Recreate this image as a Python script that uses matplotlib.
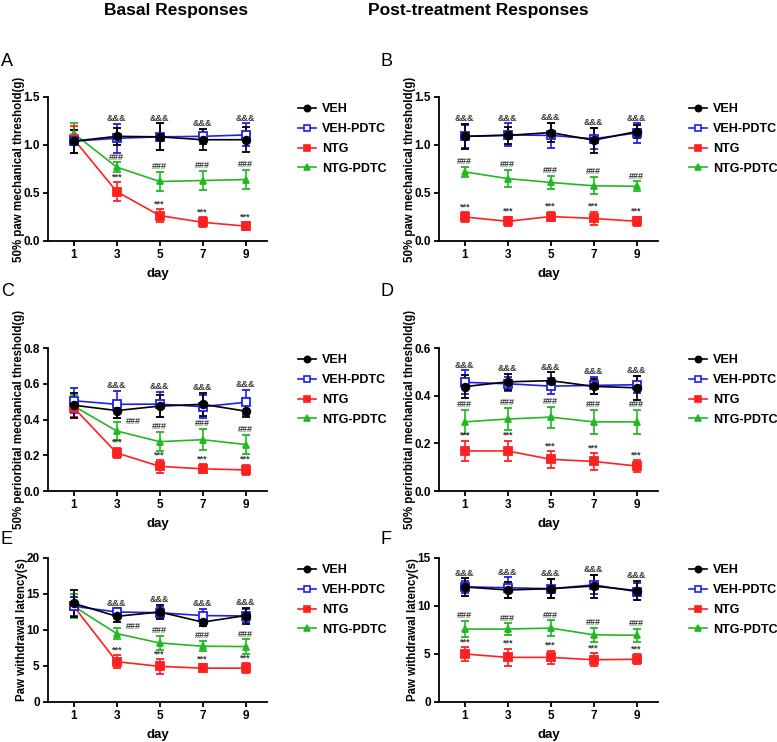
import numpy as np
import matplotlib
matplotlib.use("Agg")
import matplotlib.pyplot as plt
from matplotlib.lines import Line2D

plt.rcParams["font.family"] = ["Liberation Sans", "DejaVu Sans"]
plt.rcParams["font.weight"] = "bold"

days = [1, 3, 5, 7, 9]
groups = ["VEH", "VEH-PDTC", "NTG", "NTG-PDTC"]

# panel A: basal 50% paw mechanical threshold
a_mean = {
    "VEH": [1.04, 1.09, 1.085, 1.055, 1.055],
    "VEH-PDTC": [1.04, 1.07, 1.085, 1.09, 1.105],
    "NTG": [1.06, 0.515, 0.265, 0.195, 0.155],
    "NTG-PDTC": [1.12, 0.77, 0.62, 0.63, 0.64],
}
a_err = {
    "VEH": [0.12, 0.09, 0.14, 0.11, 0.13],
    "VEH-PDTC": [0.12, 0.15, 0.14, 0.08, 0.12],
    "NTG": [0.14, 0.1, 0.07, 0.05, 0.045],
    "NTG-PDTC": [0.11, 0.05, 0.1, 0.1, 0.1],
}
# panel B: post-treatment paw threshold
b_mean = {
    "VEH": [1.09, 1.10, 1.13, 1.05, 1.14],
    "VEH-PDTC": [1.09, 1.105, 1.10, 1.065, 1.125],
    "NTG": [0.25, 0.205, 0.255, 0.235, 0.205],
    "NTG-PDTC": [0.72, 0.65, 0.61, 0.575, 0.57],
}
b_err = {
    "VEH": [0.13, 0.09, 0.10, 0.13, 0.07],
    "VEH-PDTC": [0.12, 0.12, 0.13, 0.11, 0.10],
    "NTG": [0.05, 0.05, 0.05, 0.07, 0.05],
    "NTG-PDTC": [0.05, 0.09, 0.07, 0.09, 0.05],
}
# panel C: basal periorbital threshold
c_mean = {
    "VEH": [0.48, 0.45, 0.475, 0.485, 0.447],
    "VEH-PDTC": [0.505, 0.485, 0.486, 0.472, 0.496],
    "NTG": [0.466, 0.213, 0.138, 0.124, 0.118],
    "NTG-PDTC": [0.475, 0.336, 0.276, 0.287, 0.26],
}
c_err = {
    "VEH": [0.07, 0.04, 0.06, 0.065, 0.035],
    "VEH-PDTC": [0.07, 0.075, 0.07, 0.065, 0.07],
    "NTG": [0.05, 0.03, 0.035, 0.025, 0.03],
    "NTG-PDTC": [0.06, 0.05, 0.055, 0.06, 0.055],
}
# panel D: post-treatment periorbital threshold
d_mean = {
    "VEH": [0.438, 0.458, 0.463, 0.439, 0.433],
    "VEH-PDTC": [0.456, 0.45, 0.44, 0.443, 0.446],
    "NTG": [0.168, 0.168, 0.133, 0.124, 0.105],
    "NTG-PDTC": [0.29, 0.302, 0.31, 0.29, 0.29],
}
d_err = {
    "VEH": [0.048, 0.035, 0.035, 0.03, 0.05],
    "VEH-PDTC": [0.05, 0.03, 0.035, 0.035, 0.035],
    "NTG": [0.043, 0.043, 0.035, 0.034, 0.024],
    "NTG-PDTC": [0.05, 0.046, 0.044, 0.05, 0.05],
}
# panel E: basal paw withdrawal latency
e_mean = {
    "VEH": [13.7, 11.9, 12.5, 11.1, 12.0],
    "VEH-PDTC": [13.3, 12.5, 12.4, 12.0, 11.95],
    "NTG": [13.3, 5.6, 4.95, 4.7, 4.7],
    "NTG-PDTC": [13.3, 9.5, 8.2, 7.75, 7.7],
}
e_err = {
    "VEH": [1.9, 0.8, 1.0, 0.5, 1.1],
    "VEH-PDTC": [1.3, 0.5, 0.8, 0.9, 0.9],
    "NTG": [1.3, 0.9, 1.0, 0.6, 0.7],
    "NTG-PDTC": [1.7, 0.8, 1.0, 0.7, 1.0],
}
# panel F: post-treatment paw withdrawal latency
f_mean = {
    "VEH": [11.98, 11.67, 11.8, 12.08, 11.6],
    "VEH-PDTC": [12.0, 11.9, 11.8, 12.2, 11.5],
    "NTG": [5.0, 4.65, 4.65, 4.4, 4.45],
    "NTG-PDTC": [7.6, 7.6, 7.7, 7.0, 6.95],
}
f_err = {
    "VEH": [0.9, 0.85, 1.0, 1.2, 1.0],
    "VEH-PDTC": [0.6, 1.1, 1.0, 1.0, 0.9],
    "NTG": [0.7, 0.9, 0.7, 0.7, 0.5],
    "NTG-PDTC": [0.85, 0.6, 0.8, 0.7, 0.65],
}

styles = {
    "VEH": dict(color="black", marker="o", mfc="black", ms=5.5),
    "VEH-PDTC": dict(color="#2020ee", marker="s", mfc="white", ms=5.5),
    "NTG": dict(color="#ff2020", marker="s", mfc="#ff2020", ms=5.5),
    "NTG-PDTC": dict(color="#22b822", marker="^", mfc="#22b822", ms=5),
}
mark_color = "#3a3a3a"

W, H = 777, 742


def rect(x0, y0, x1, y1):
    return [x0 / W, 1 - y1 / H, (x1 - x0) / W, (y1 - y0) / H]


def panel(fig, box, mean, err, ylim, yticks, ylabel, fmt, letter, lpos,
          skip_first=True, shifted=()):
    ax = fig.add_axes(rect(*box))
    order = ["NTG-PDTC", "NTG", "VEH-PDTC", "VEH"]
    for g in order:
        st = styles[g]
        ax.errorbar(days, mean[g], yerr=err[g], color=st["color"], marker=st["marker"],
                    mfc=st["mfc"], mec=st["color"], ms=st["ms"], mew=1.3, lw=1.2,
                    elinewidth=1.2, capsize=3, capthick=1.2, zorder=3)
    ax.set_xlim(-0.2, 10)
    ax.set_ylim(*ylim)
    ax.set_xticks(days)
    ax.set_yticks(yticks)
    ax.set_yticklabels([fmt.format(v) for v in yticks])
    for s in ["top", "right"]:
        ax.spines[s].set_visible(False)
    for s in ["left", "bottom"]:
        ax.spines[s].set_linewidth(1.3)
    ax.tick_params(width=1.3, length=3.5, pad=2.5, labelsize=8.5)
    for lab in ax.get_xticklabels() + ax.get_yticklabels():
        lab.set_fontweight("bold")
    ax.set_xlabel("day", fontsize=9.5, fontweight="bold", labelpad=5)
    ax.set_ylabel(ylabel, fontsize=8.3, fontweight="bold", labelpad=-1)

    # significance marks
    for i, d in enumerate(days):
        if skip_first and i == 0:
            continue
        top_veh = max(mean["VEH"][i] + err["VEH"][i], mean["VEH-PDTC"][i] + err["VEH-PDTC"][i])
        ax.annotate("&&&", (d, top_veh), xytext=(0, 0.5), textcoords="offset points",
                    ha="center", va="bottom", fontsize=6.5, color=mark_color)
        top_g = mean["NTG-PDTC"][i] + err["NTG-PDTC"][i]
        if d in shifted:
            ax.annotate("###", (d, mean["VEH"][i] - err["VEH"][i]), xytext=(12, -3),
                        textcoords="offset points", ha="center", va="center",
                        fontsize=6.5, color=mark_color)
        else:
            ax.annotate("###", (d, top_g), xytext=(0, 0.5), textcoords="offset points",
                        ha="center", va="bottom", fontsize=6.5, color=mark_color)
        top_r = mean["NTG"][i] + err["NTG"][i]
        ax.annotate("***", (d, top_r), xytext=(0, 0.5), textcoords="offset points",
                    ha="center", va="bottom", fontsize=6.5, color=mark_color)

    handles = [Line2D([0], [0], color=styles[g]["color"], marker=styles[g]["marker"],
                      mfc=styles[g]["mfc"], mec=styles[g]["color"], ms=4.5,
                      mew=1.2, lw=1.2) for g in groups]
    ax.legend(handles, groups, loc="upper left", bbox_to_anchor=(1.14, 0.955), frameon=False,
              prop=dict(size=9, weight="bold"), handlelength=1.45, handletextpad=0.5,
              labelspacing=0.62, borderpad=0, borderaxespad=0)
    fig.text(lpos[0] / W, 1 - lpos[1] / H, letter, fontsize=13, fontweight="normal",
             ha="left", va="center")
    return ax


fig = plt.figure(figsize=(W / 100, H / 100), dpi=100)
title_font = ["Liberation Sans Narrow", "Liberation Sans", "DejaVu Sans"]
fig.text(176 / W, 1 - 11 / H, "Basal Responses", fontsize=12.5, fontweight="bold",
         family=title_font, ha="center", va="center")
fig.text(478 / W, 1 - 11 / H, "Post-treatment Responses", fontsize=12.5, fontweight="bold",
         family=title_font, ha="center", va="center")

panel(fig, (48, 97, 267, 241), a_mean, a_err, (0, 1.5), [0, 0.5, 1.0, 1.5],
      "50% paw mechanical threshold(g)", "{:.1f}", "A", (1, 62))
panel(fig, (439, 97, 658, 241), b_mean, b_err, (0, 1.5), [0, 0.5, 1.0, 1.5],
      "50% paw mechanical threshold(g)", "{:.1f}", "B", (380, 62), skip_first=False)
panel(fig, (48, 348, 267, 491), c_mean, c_err, (0, 0.8), [0, 0.2, 0.4, 0.6, 0.8],
      "50% periorbital mechanical threshold(g)", "{:.1f}", "C", (1, 291), shifted=(3,))
panel(fig, (439, 348, 658, 491), d_mean, d_err, (0, 0.6), [0, 0.2, 0.4, 0.6],
      "50% periorbital mechanical threshold(g)", "{:.1f}", "D", (380, 291), skip_first=False)
panel(fig, (48, 558, 267, 702), e_mean, e_err, (0, 20), [0, 5, 10, 15, 20],
      "Paw withdrawal latency(s)", "{:.0f}", "E", (1, 540), shifted=(3,))
panel(fig, (439, 558, 658, 702), f_mean, f_err, (0, 15), [0, 5, 10, 15],
      "Paw withdrawal latency(s)", "{:.0f}", "F", (380, 540), skip_first=False)

fig.savefig("out.png", dpi=100)
